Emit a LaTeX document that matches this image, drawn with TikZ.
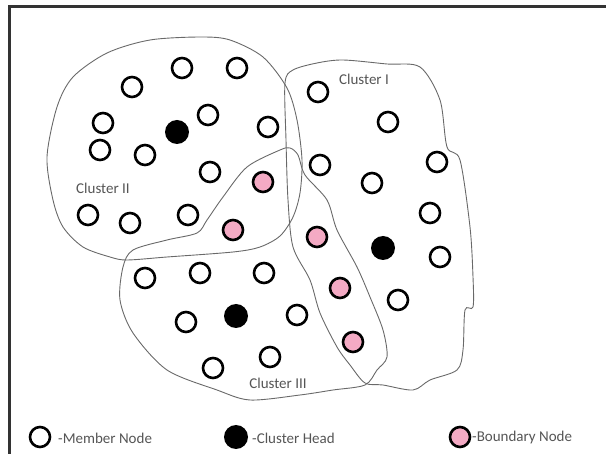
\documentclass[tikz,border=0pt]{standalone}
\usepackage{fontspec}
\setmainfont{Carlito}
\definecolor{bndpink}{RGB}{244,170,196}
\definecolor{txtgray}{RGB}{85,85,85}
\definecolor{linegray}{RGB}{105,105,105}

\begin{document}
\begin{tikzpicture}[x=1pt,y=-1pt,font=\fontsize{15}{17}\selectfont,
  memb/.style={circle,draw=black,line width=2.6pt,minimum size=20pt,inner sep=0pt,fill=white},
  chead/.style={circle,fill=black,minimum size=24pt,inner sep=0pt},
  bnode/.style={memb,fill=bndpink},
  outline/.style={draw=linegray,line width=0.9pt},
  lbl/.style={text=txtgray,inner sep=0pt}]
  \useasboundingbox (0,0) rectangle (606,454);
  \draw[line width=3pt,draw=black!80] (9,454) -- (9,7) -- (606,7);
  % cluster outlines
  \draw[outline] plot[smooth cycle,tension=0.5] coordinates {(201,37) (230,40) (263,57) (287,88) (297,120) (302,160) (300,193) (293,217) (280,236) (260,247) (233,252) (167,257) (127,260) (110,257) (83,247) (63,227) (53,200) (47,157) (57,107) (73,77) (107,53) (150,40)};
  \draw[outline] plot[smooth cycle,tension=0.5] coordinates {(285,83) (293,70) (317,63) (343,60) (387,64) (420,67) (440,100) (447,147) (460,160) (470,227) (473,277) (473,307) (465,310) (463,350) (457,370) (430,380) (413,390) (383,385) (365,383) (350,365) (337,347) (320,313) (310,280) (293,247) (288,200) (286,140)};
  \draw[outline] plot[smooth cycle,tension=0.5] coordinates {(123,267) (133,250) (167,240) (197,233) (207,220) (223,197) (247,167) (280,150) (290,148) (298,155) (305,175) (327,200) (337,230) (357,267) (370,297) (383,330) (387,357) (377,370) (365,385) (333,390) (300,395) (250,400) (217,390) (167,370) (133,333) (120,300)};
  \node[lbl] (lab1) at (364,79) {Cluster I};
  \node[lbl] (lab2) at (103,188) {Cluster II};
  \node[lbl] (lab3) at (278,383) {Cluster III};
  % cluster II
  \node[memb] (m1) at (132,87) {}; \node[memb] (m2) at (182,68) {}; \node[memb] (m3) at (237,68) {};
  \node[memb] (m4) at (103,123) {}; \node[memb] (m5) at (208,115) {}; \node[memb] (m6) at (268,127) {};
  \node[memb] (m7) at (100,150) {}; \node[memb] (m8) at (145,155) {}; \node[memb] (m9) at (210,172) {};
  \node[memb] (m10) at (88,215) {}; \node[memb] (m11) at (130,223) {}; \node[memb] (m12) at (188,215) {};
  \node[chead] (h2) at (177,132) {};
  \node[bnode] (b1) at (263,182) {}; \node[bnode] (b2) at (233,230) {};
  % cluster I
  \node[memb] (m13) at (318,92) {}; \node[memb] (m14) at (388,122) {}; \node[memb] (m15) at (437,162) {};
  \node[memb] (m16) at (320,165) {}; \node[memb] (m17) at (372,183) {}; \node[memb] (m18) at (430,213) {};
  \node[memb] (m19) at (440,257) {}; \node[memb] (m20) at (398,300) {};
  \node[chead] (h1) at (383,248) {};
  \node[bnode] (b3) at (317,237) {}; \node[bnode] (b4) at (340,288) {}; \node[bnode] (b5) at (353,342) {};
  % cluster III
  \node[memb] (m21) at (145,278) {}; \node[memb] (m22) at (200,273) {}; \node[memb] (m23) at (264,273) {};
  \node[memb] (m24) at (186,322) {}; \node[memb] (m25) at (297,315) {};
  \node[memb] (m26) at (270,357) {}; \node[memb] (m27) at (213,368) {};
  \node[chead] (h3) at (236,316) {};
  % legend
  \node[memb] (k1) at (40,437) {};
  \node[lbl,anchor=west] (t1) at (58,438) {-Member Node};
  \node[chead] (k2) at (236,437) {};
  \node[lbl,anchor=west] (t2) at (252,438) {-Cluster Head};
  \node[bnode] (k3) at (460,437) {};
  \node[lbl,anchor=west] (t3) at (472,438) {-Boundary Node};
\end{tikzpicture}
\end{document}
